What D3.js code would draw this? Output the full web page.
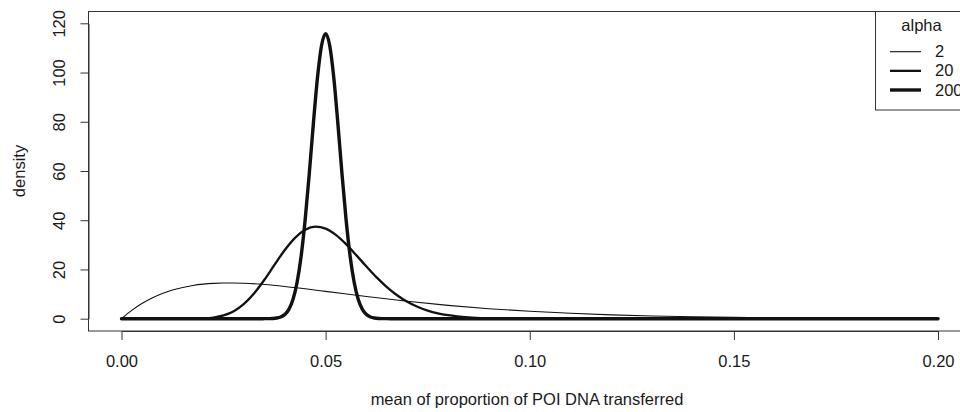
<!DOCTYPE html>
<html><head><meta charset="utf-8">
<script src="https://cdn.jsdelivr.net/npm/d3@7"></script>
<style>
body{margin:0;background:#fff}
text{font-family:"Liberation Sans",Arial,Helvetica,sans-serif;fill:#1a1a1a}
</style>
</head><body>
<svg id="c" width="960" height="412"></svg>
<script>
// ---- data ----
const alphaLabels = ["2", "20", "200"];
const xTicks = [0, 0.05, 0.10, 0.15, 0.20];
const xTickLabels = ["0.00", "0.05", "0.10", "0.15", "0.20"];
const yTicks = [0, 20, 40, 60, 80, 100, 120];
const yTickLabels = ["0", "20", "40", "60", "80", "100", "120"];

const xAlpha2 = [0, 0.0025, 0.005, 0.0075, 0.01, 0.0125, 0.015, 0.0175, 0.02, 0.0225, 0.025, 0.0275, 0.03, 0.035, 0.04, 0.045, 0.05, 0.06, 0.07, 0.08, 0.09, 0.10, 0.11, 0.12, 0.13, 0.14, 0.15, 0.16, 0.17, 0.18, 0.19, 0.20];
const yAlpha2 = [0, 3.38, 6.16, 8.41, 10.22, 11.63, 12.71, 13.50, 14.04, 14.37, 14.52, 14.53, 14.41, 13.88, 13.09, 12.14, 11.11, 9.01, 7.08, 5.42, 4.07, 3.00, 2.19, 1.57, 1.12, 0.78, 0.54, 0.37, 0.26, 0.17, 0.12, 0.08];

const xAlpha20 = [0, 0.01, 0.015, 0.0175, 0.02, 0.0225, 0.025, 0.0275, 0.03, 0.0325, 0.035, 0.0375, 0.04, 0.0425, 0.045, 0.0475, 0.05, 0.0525, 0.055, 0.0575, 0.06, 0.0625, 0.065, 0.0675, 0.07, 0.0725, 0.075, 0.0775, 0.08, 0.085, 0.09, 0.095, 0.10, 0.11, 0.20];
const yAlpha20 = [0, 0, 0.004, 0.027, 0.13, 0.47, 1.32, 3.04, 5.99, 10.31, 15.81, 21.94, 27.91, 32.86, 36.15, 37.39, 36.59, 34.06, 30.29, 25.83, 21.19, 16.77, 12.84, 9.54, 6.88, 4.83, 3.31, 2.21, 1.45, 0.58, 0.22, 0.08, 0.02, 0.002, 0];

const xAlpha200 = [0, 0.034, 0.035, 0.036, 0.037, 0.038, 0.039, 0.040, 0.041, 0.042, 0.043, 0.044, 0.045, 0.046, 0.047, 0.048, 0.049, 0.050, 0.051, 0.052, 0.053, 0.054, 0.055, 0.056, 0.057, 0.058, 0.059, 0.060, 0.061, 0.062, 0.063, 0.064, 0.065, 0.066, 0.20];
const yAlpha200 = [0, 0, 0.01, 0.03, 0.09, 0.27, 0.71, 1.72, 3.8, 7.8, 14.7, 25.4, 40.4, 59.0, 79.3, 97.9, 111.0, 115.8, 111.0, 97.9, 79.3, 59.0, 40.4, 25.4, 14.7, 7.8, 3.8, 1.72, 0.71, 0.27, 0.09, 0.03, 0.01, 0, 0];

// ---- styles ----
const lineWidths = [1.1, 2.3, 3.4];
const FS = 16.5;

const svg = d3.select("#c");
const x = d3.scaleLinear().domain([0, 0.2]).range([121.5, 938]);
const y = d3.scaleLinear().domain([0, 120]).range([318.7, 23.3]);

const series = [
  d3.zip(xAlpha2, yAlpha2),
  d3.zip(xAlpha20, yAlpha20),
  d3.zip(xAlpha200, yAlpha200)
];

// plot box
svg.append("rect").attr("x", 88.5).attr("y", 11.5).attr("width", 883).attr("height", 319.5)
  .attr("fill", "none").attr("stroke", "#333").attr("stroke-width", 1);

// curves
const line = d3.line().x(d => x(d[0])).y(d => y(d[1])).curve(d3.curveMonotoneX);
series.forEach((s, i) => {
  svg.append("path").datum(s).attr("d", line)
    .attr("fill", "none").attr("stroke", "#111")
    .attr("stroke-width", lineWidths[i]).attr("stroke-linejoin", "round").attr("stroke-linecap", "round");
});

// x axis
const xAxis = d3.axisBottom(x).tickValues(xTicks)
  .tickFormat((d, i) => xTickLabels[i]).tickSize(9).tickPadding(15).tickSizeOuter(0);
const gx = svg.append("g").attr("transform", "translate(0,331)").call(xAxis);
gx.select(".domain").attr("stroke", "#333");
gx.selectAll(".tick line").attr("stroke", "#333");
gx.selectAll(".tick text").attr("font-size", FS).attr("fill", "#1a1a1a");

// y axis
const yAxis = d3.axisLeft(y).tickValues(yTicks)
  .tickFormat((d, i) => yTickLabels[i]).tickSize(8).tickSizeOuter(0);
const gy = svg.append("g").attr("transform", "translate(88.5,0)").call(yAxis);
gy.select(".domain").attr("stroke", "#333");
gy.selectAll(".tick line").attr("stroke", "#333");
gy.selectAll(".tick text")
  .attr("font-size", FS).attr("fill", "#1a1a1a")
  .attr("x", 0).attr("y", -23.5).attr("dy", null)
  .attr("text-anchor", "middle")
  .attr("transform", "rotate(-90)");

// axis titles
svg.append("text").attr("x", 527).attr("y", 405).attr("text-anchor", "middle")
  .attr("font-size", FS).text("mean of proportion of POI DNA transferred");
svg.append("text").attr("transform", "translate(24.5,171) rotate(-90)").attr("text-anchor", "middle")
  .attr("font-size", FS).text("density");

// legend
const lg = svg.append("g");
lg.append("rect").attr("x", 875.5).attr("y", 11.5).attr("width", 95).attr("height", 98.5)
  .attr("fill", "#fff").attr("stroke", "#333").attr("stroke-width", 1);
lg.append("text").attr("x", 921.5).attr("y", 31).attr("text-anchor", "middle")
  .attr("font-size", FS).text("alpha");
const rowY = d3.scalePoint().domain(alphaLabels).range([51.7, 90]);
alphaLabels.forEach((a, i) => {
  lg.append("line").attr("x1", 890).attr("x2", 921).attr("y1", rowY(a)).attr("y2", rowY(a))
    .attr("stroke", "#111").attr("stroke-width", lineWidths[i]);
  lg.append("text").attr("x", 935).attr("y", rowY(a) + 5.6).attr("font-size", FS).text(a);
});
</script>
</body></html>
